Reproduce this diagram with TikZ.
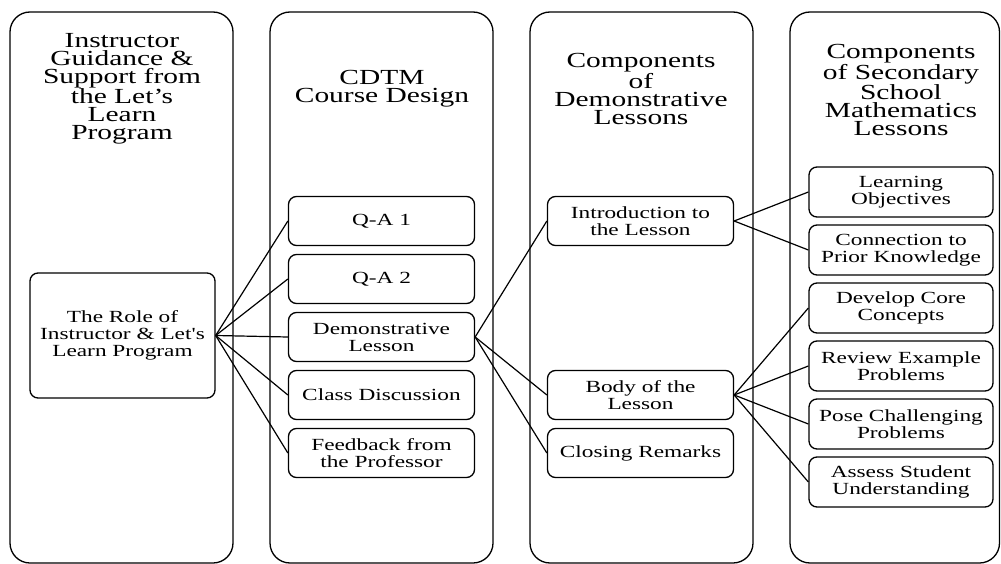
\documentclass[tikz,border=0pt]{standalone}
\usepackage{fontspec}
\newfontfamily\diagfont[FakeStretch=1.37]{Liberation Serif}
\usetikzlibrary{positioning}

\begin{document}
\begin{tikzpicture}[x=1pt,y=1pt,node distance=58pt,on grid,
	column/.style={draw,line width=1.3pt,rounded corners=20pt,inner sep=0pt},
	head/.style={align=center,font=\diagfont\fontsize{21.5}{18}\selectfont},
	item/.style={draw,line width=1.3pt,rounded corners=8pt,align=center,inner sep=0pt,
		minimum width=186pt,minimum height=49pt,font=\diagfont\fontsize{17}{17}\selectfont},
	link/.style={line width=1.2pt}]
	\useasboundingbox (0,0) rectangle (1001,-564);
	\node[column,minimum width=223pt,minimum height=551pt] (colA) at (121.5,-287.5) {};
	\node[column,minimum width=223pt,minimum height=551pt] (colB) at (381.5,-287.5) {};
	\node[column,minimum width=223pt,minimum height=551pt] (colC) at (641.5,-287.5) {};
	\node[column,minimum width=209.5pt,minimum height=551pt] (colD) at (894.75,-287.5) {};
	\node[head] (headA) at (122,-89) {Instructor\\Guidance \&\\Support from\\the Let’s\\Learn\\Program};
	\node[head] (headB) at (382,-89) {CDTM\\Course Design};
	\node[head] (headC) at (641,-89) {Components\\of\\Demonstrative\\Lessons};
	\node[head] (headD) at (901,-90) {Components\\of Secondary\\School\\Mathematics\\Lessons};
	\node[item,minimum width=185pt,minimum height=125pt] (role) at (122.5,-335.5) {The Role of\\Instructor \& Let's\\Learn Program};
	\node[item] (qa1) at (381.5,-221) {Q-A 1};
	\node[item] (qa2) [below=of qa1] {Q-A 2};
	\node[item] (demo) [below=of qa2] {Demonstrative\\Lesson};
	\node[item] (discuss) [below=of demo] {Class Discussion};
	\node[item] (feedback) [below=of discuss] {Feedback from\\the Professor};
	\node[item] (intro) at (640.5,-221) {Introduction to\\the Lesson};
	\node[item] (body) at (640.5,-395) {Body of the\\Lesson};
	\node[item] (closing) [below=of body] {Closing Remarks};
	\node[item,minimum width=184pt,minimum height=50pt] (objectives) at (901,-192) {Learning\\Objectives};
	\node[item,minimum width=184pt,minimum height=50pt] (prior) [below=of objectives] {Connection to\\Prior Knowledge};
	\node[item,minimum width=184pt,minimum height=50pt] (core) [below=of prior] {Develop Core\\Concepts};
	\node[item,minimum width=184pt,minimum height=50pt] (examples) [below=of core] {Review Example\\Problems};
	\node[item,minimum width=184pt,minimum height=50pt] (challenge) [below=of examples] {Pose Challenging\\Problems};
	\node[item,minimum width=184pt,minimum height=50pt] (assess) [below=of challenge] {Assess Student\\Understanding};
	\path[link]
	(role.east) edge (qa1.west)
	edge (qa2.west)
	edge (demo.west)
	edge (discuss.west)
	edge (feedback.west)
	(demo.east) edge (intro.west)
	edge (body.west)
	edge (closing.west)
	(intro.east) edge (objectives.west)
	edge (prior.west)
	(body.east) edge (core.west)
	edge (examples.west)
	edge (challenge.west)
	edge (assess.west);
\end{tikzpicture}
\end{document}
